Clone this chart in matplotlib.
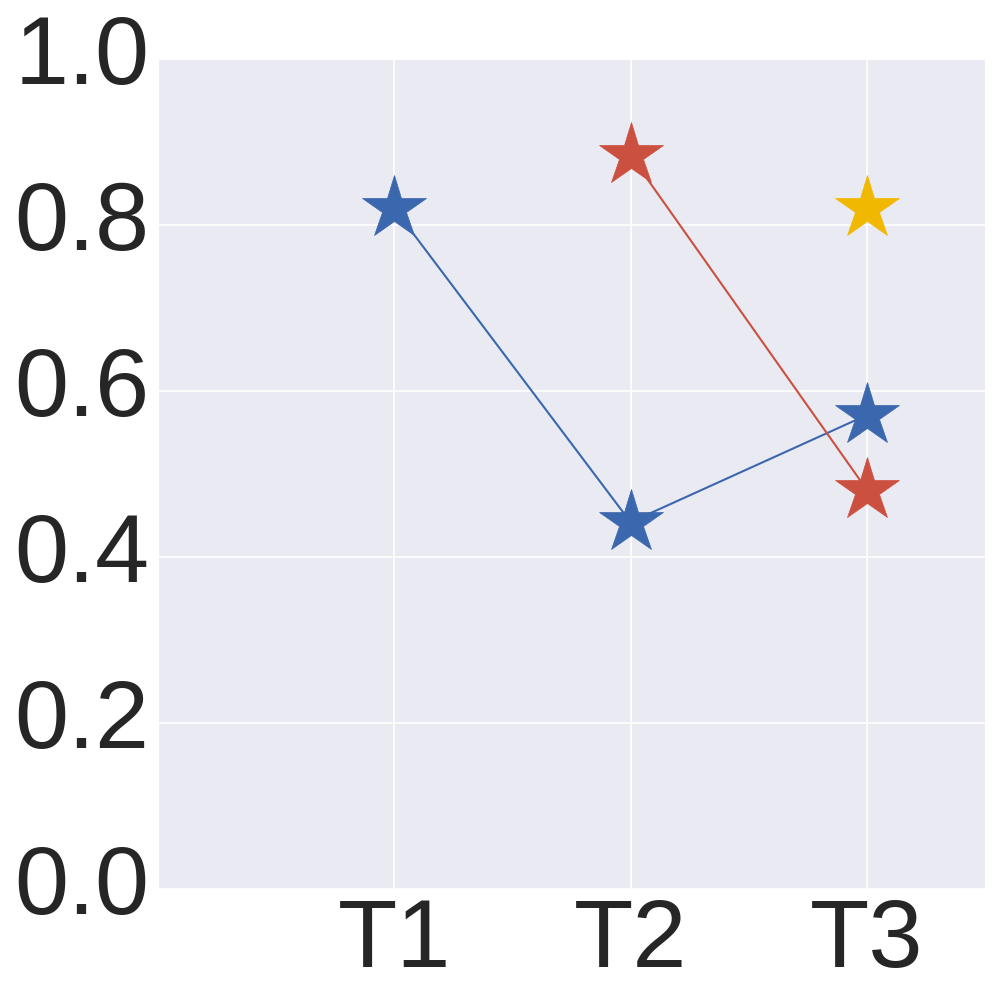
import numpy as np
import matplotlib
matplotlib.use("Agg")
import matplotlib.pyplot as plt
import seaborn as sns

sns.set_style("darkgrid")
plt.rcParams['font.family'] = ['Liberation Sans', 'DejaVu Sans']

categories = ["T1", "T2", "T3"]
x_pos = [1, 2, 3]
blue_vals = [0.82, 0.442, 0.571]
red_vals = [np.nan, 0.884, 0.481]
yellow_vals = [np.nan, np.nan, 0.82]
yticks = [0.0, 0.2, 0.4, 0.6, 0.8, 1.0]

fig = plt.figure(figsize=(10, 10), dpi=100)
ax = fig.add_axes([0.158, 0.111, 0.827, 0.830])

series = [(blue_vals, "#3a67ae"), (red_vals, "#cc5040"), (yellow_vals, "#f0b800")]
for vals, col in series:
    ax.plot(x_pos, vals, color=col, lw=1.5, zorder=2)
for vals, col in series:
    ax.plot(x_pos, vals, linestyle="none", marker="*", ms=48, color=col,
            mec=col, mew=0.5, zorder=3)

ax.set_xlim(0, 3.5)
ax.set_ylim(0, 1.0)
ax.set_xticks(x_pos)
ax.set_xticklabels(categories)
ax.set_yticks(yticks)
ax.set_yticklabels([f"{v:.1f}" for v in yticks])
ax.tick_params(axis="both", labelsize=70, colors="#262626", length=0, pad=6)
for lab in ax.get_yticklabels():
    lab.set_verticalalignment("center")
ax.grid(True, color="white", lw=1.2)

fig.savefig("out.png", dpi=100)
